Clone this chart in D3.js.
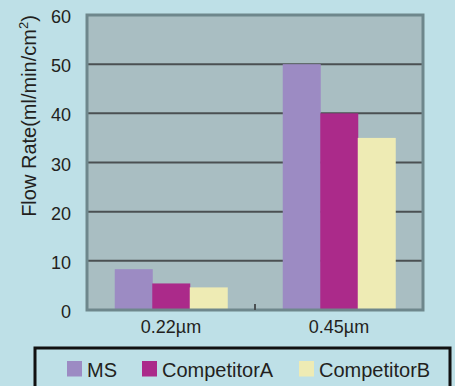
<!DOCTYPE html>
<html>
<head>
<meta charset="utf-8">
<script src="https://cdn.jsdelivr.net/npm/d3@7"></script>
<style>
  body { margin: 0; background: #bee0e7; }
  svg { display: block; font-family: "Liberation Sans", Arial, sans-serif; }
</style>
</head>
<body>
<svg></svg>
<script>
var categories = ['0.22\u00b5m', '0.45\u00b5m'];
var seriesNames = ['MS', 'CompetitorA', 'CompetitorB'];
var msValues = [8.3, 50];
var competitorAValues = [5.4, 40];
var competitorBValues = [4.6, 35];
var yTicks = [0, 10, 20, 30, 40, 50, 60];

var colors = ['#9c8bc3', '#ab2a8a', '#eeebb4'];
var seriesValues = [msValues, competitorAValues, competitorBValues];

var w = 455, h = 386;
var plot = {left: 87, right: 423, top: 15, bottom: 310};

var svg = d3.select('svg')
            .attr('width', w)
            .attr('height', h);

svg.append('rect')
   .attr('width', w).attr('height', h)
   .attr('fill', '#bee0e7');

var x = d3.scaleBand()
          .domain(categories)
          .range([plot.left, plot.right]);

var xInner = d3.scaleBand()
               .domain(seriesNames)
               .range([0, x.bandwidth()])
               .paddingOuter(0.74)
               .paddingInner(0);

var y = d3.scaleLinear()
          .domain([0, 60])
          .range([plot.bottom, plot.top]);

// plot background
svg.append('rect')
   .attr('x', plot.left).attr('y', plot.top)
   .attr('width', plot.right - plot.left)
   .attr('height', plot.bottom - plot.top)
   .attr('fill', '#a9bec2');

// gridlines
svg.append('g')
   .selectAll('line')
   .data(yTicks.filter(function(d){ return d > 0 && d < 60; }))
   .enter()
   .append('line')
   .attr('x1', plot.left).attr('x2', plot.right)
   .attr('y1', function(d){ return y(d); })
   .attr('y2', function(d){ return y(d); })
   .attr('stroke', '#4b5052')
   .attr('stroke-width', 2);

// bars
var groups = svg.append('g')
                .selectAll('g')
                .data(categories)
                .enter()
                .append('g')
                .attr('transform', function(d){ return 'translate(' + x(d) + ',0)'; });

groups.selectAll('rect')
      .data(function(d, i){
        return seriesNames.map(function(s, j){
          return {name: s, value: seriesValues[j][i], color: colors[j]};
        });
      })
      .enter()
      .append('rect')
      .attr('x', function(d){ return xInner(d.name); })
      .attr('width', xInner.bandwidth() + 0.5)
      .attr('y', function(d){ return y(d.value); })
      .attr('height', function(d){ return plot.bottom - y(d.value); })
      .attr('fill', function(d){ return d.color; });

// plot border
svg.append('rect')
   .attr('x', plot.left).attr('y', plot.top)
   .attr('width', plot.right - plot.left)
   .attr('height', plot.bottom - plot.top)
   .attr('fill', 'none')
   .attr('stroke', '#6e878c')
   .attr('stroke-width', 3);

// category separator ticks
svg.append('g')
   .selectAll('line')
   .data(categories.slice(1))
   .enter()
   .append('line')
   .attr('x1', function(d){ return x(d); })
   .attr('x2', function(d){ return x(d); })
   .attr('y1', plot.bottom)
   .attr('y2', plot.bottom - 6)
   .attr('stroke', '#4b5052')
   .attr('stroke-width', 2);

// y axis labels
svg.append('g')
   .selectAll('text')
   .data(yTicks)
   .enter()
   .append('text')
   .attr('x', 71)
   .attr('y', function(d){ return y(d) + 8; })
   .attr('text-anchor', 'end')
   .attr('font-size', 18)
   .attr('fill', '#231f20')
   .text(function(d){ return d; });

// x axis labels
svg.append('g')
   .selectAll('text')
   .data(categories)
   .enter()
   .append('text')
   .attr('x', function(d){ return x(d) + x.bandwidth() / 2; })
   .attr('y', 333)
   .attr('text-anchor', 'middle')
   .attr('font-size', 18)
   .attr('fill', '#231f20')
   .text(function(d){ return d; });

// y title
var title = svg.append('text')
   .attr('transform', 'translate(36,116) rotate(-90)')
   .attr('text-anchor', 'middle')
   .attr('font-size', 20)
   .attr('fill', '#231f20');
title.append('tspan').text('Flow Rate(ml/min/cm');
title.append('tspan').attr('font-size', 13).attr('dy', -8).text('2');
title.append('tspan').attr('dy', 8).text(')');

// legend
svg.append('rect')
   .attr('x', 35).attr('y', 348)
   .attr('width', 415).attr('height', 50)
   .attr('fill', '#bee0e7')
   .attr('stroke', '#111')
   .attr('stroke-width', 3);

var legendX = [67, 142, 299];
var legend = svg.append('g')
                .selectAll('g')
                .data(seriesNames)
                .enter()
                .append('g')
                .attr('transform', function(d, i){ return 'translate(' + legendX[i] + ',361)'; });

legend.append('rect')
      .attr('width', 15).attr('height', 15.5)
      .attr('fill', function(d, i){ return colors[i]; });

legend.append('text')
      .attr('x', 20).attr('y', 15.5)
      .attr('font-size', 20)
      .attr('fill', '#231f20')
      .text(function(d){ return d; });
</script>
</body>
</html>
